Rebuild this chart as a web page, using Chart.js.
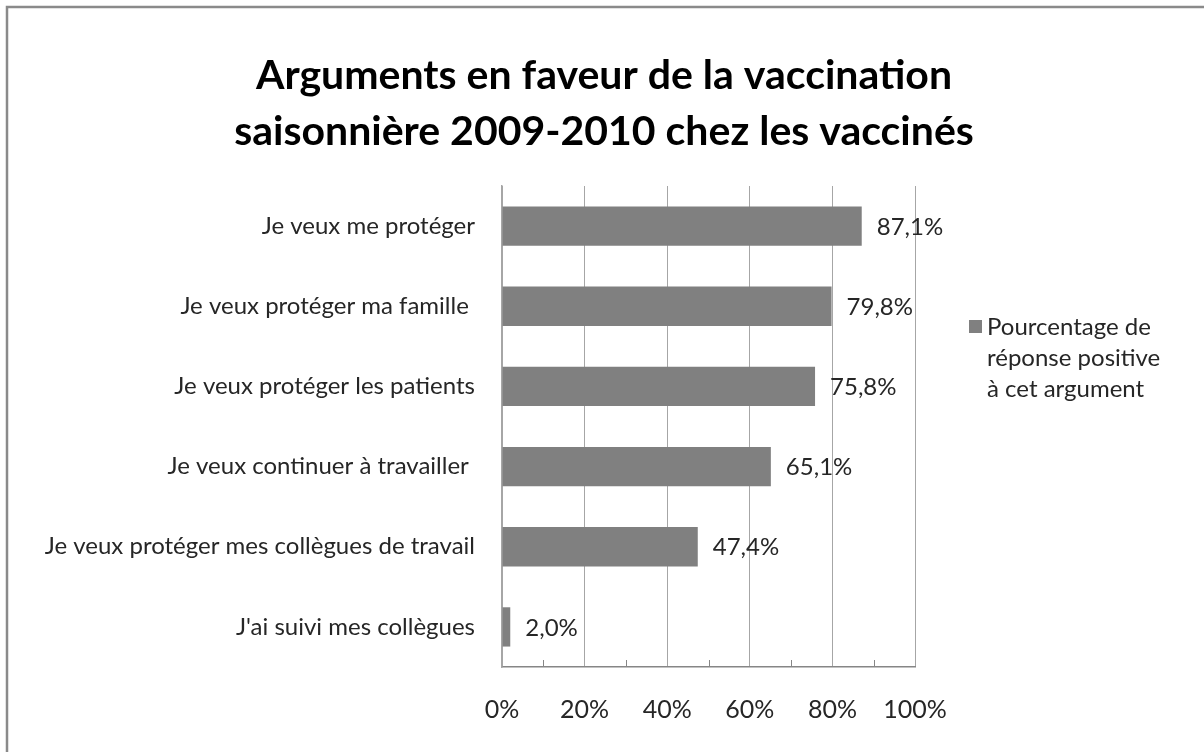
<!DOCTYPE html>
<html>
<head>
<meta charset="utf-8">
<script src="https://cdn.jsdelivr.net/npm/chart.js@4.4.1/dist/chart.umd.min.js"></script>
<style>
  html, body { margin: 0; padding: 0; background: #fff; }
  #wrap { width: 1204px; height: 752px; position: relative; }
</style>
</head>
<body>
<div id="wrap"><canvas id="chart" width="1204" height="752"></canvas></div>
<script>
// données
const categories = [
  "Je veux me protéger",
  "Je veux protéger ma famille ",
  "Je veux protéger les patients",
  "Je veux continuer à travailler ",
  "Je veux protéger mes collègues de travail",
  "J'ai suivi mes collègues"
];
const values = [87.1, 79.8, 75.8, 65.1, 47.4, 2.0];
const seriesName = "Pourcentage de réponse positive à cet argument";
const legendLines = ["Pourcentage de", "réponse positive", "à cet argument"];
const titleLines = ["Arguments en faveur de la vaccination", "saisonnière 2009-2010 chez les vaccinés"];
const xTicks = [0, 20, 40, 60, 80, 100];

const FONT = "Lato, 'Open Sans', sans-serif";
const fmt = v => v.toFixed(1).replace(".", ",") + "%";

// cadre + titre
const framePlugin = {
  id: "frame",
  beforeDraw(chart) {
    const c = chart.ctx;
    c.save();
    c.fillStyle = "#fff";
    c.fillRect(0, 0, chart.width, chart.height);
    c.strokeStyle = "#8a8a8a";
    c.lineWidth = 2.5;
    c.strokeRect(7, 7, chart.width + 20, chart.height + 20);
    c.fillStyle = "#000";
    c.font = "bold 41px " + FONT;
    c.textAlign = "center";
    c.textBaseline = "middle";
    c.fillText(titleLines[0], 604, 76);
    c.fillText(titleLines[1], 604, 132);
    c.restore();
  }
};

// petites graduations sur l'axe des x
const minorTicks = {
  id: "minorTicks",
  afterDraw(chart) {
    const c = chart.ctx;
    const sx = chart.scales.x;
    const b = chart.chartArea.bottom;
    c.save();
    c.strokeStyle = "#868686";
    c.lineWidth = 1;
    for (let v = 10; v < 100; v += 20) {
      const px = Math.round(sx.getPixelForValue(v)) + 0.5;
      c.beginPath();
      c.moveTo(px, b);
      c.lineTo(px, b - 7);
      c.stroke();
    }
    c.restore();
  }
};

// étiquettes de valeur
const valueLabels = {
  id: "valueLabels",
  afterDatasetsDraw(chart) {
    const c = chart.ctx;
    const meta = chart.getDatasetMeta(0);
    c.save();
    c.fillStyle = "#262626";
    c.font = "24px " + FONT;
    c.textAlign = "left";
    c.textBaseline = "middle";
    meta.data.forEach((bar, i) => {
      c.fillText(fmt(values[i]), bar.x + 15, bar.y + 1);
    });
    c.restore();
  }
};

// légende
const legendPlugin = {
  id: "sideLegend",
  afterDraw(chart) {
    const c = chart.ctx;
    c.save();
    c.fillStyle = "#808080";
    c.fillRect(969, 320, 13, 13);
    c.fillStyle = "#262626";
    c.font = "24px " + FONT;
    c.textAlign = "left";
    c.textBaseline = "middle";
    legendLines.forEach((t, i) => c.fillText(t, 987, 327 + i * 31));
    c.restore();
  }
};

new Chart(document.getElementById("chart"), {
  type: "bar",
  data: {
    labels: categories,
    datasets: [{
      label: seriesName,
      data: values,
      backgroundColor: "#808080",
      borderWidth: 0,
      barPercentage: 0.49,
      categoryPercentage: 1
    }]
  },
  options: {
    indexAxis: "y",
    responsive: false,
    animation: false,
    layout: { padding: { top: 186, right: 289, left: 0, bottom: 0 } },
    plugins: {
      legend: { display: false },
      title: { display: false },
      tooltip: { enabled: false }
    },
    scales: {
      x: {
        min: 0,
        max: 100,
        afterBuildTicks(scale) { scale.ticks = xTicks.map(v => ({ value: v })); },
        afterFit(scale) { scale.height = 85; },
        ticks: {
          callback: v => v + "%",
          color: "#262626",
          font: { family: FONT, size: 25 },
          padding: 28,
          maxRotation: 0
        },
        grid: { color: "#a6a6a6", drawTicks: false },
        border: { color: "#868686", width: 1.5 }
      },
      y: {
        afterFit(scale) { scale.width = 502; },
        ticks: {
          color: "#262626",
          font: { family: FONT, size: 24 },
          padding: 27
        },
        grid: { display: false, drawTicks: false },
        border: { color: "#a6a6a6", width: 1.5 }
      }
    }
  },
  plugins: [framePlugin, minorTicks, valueLabels, legendPlugin]
});
</script>
</body>
</html>
